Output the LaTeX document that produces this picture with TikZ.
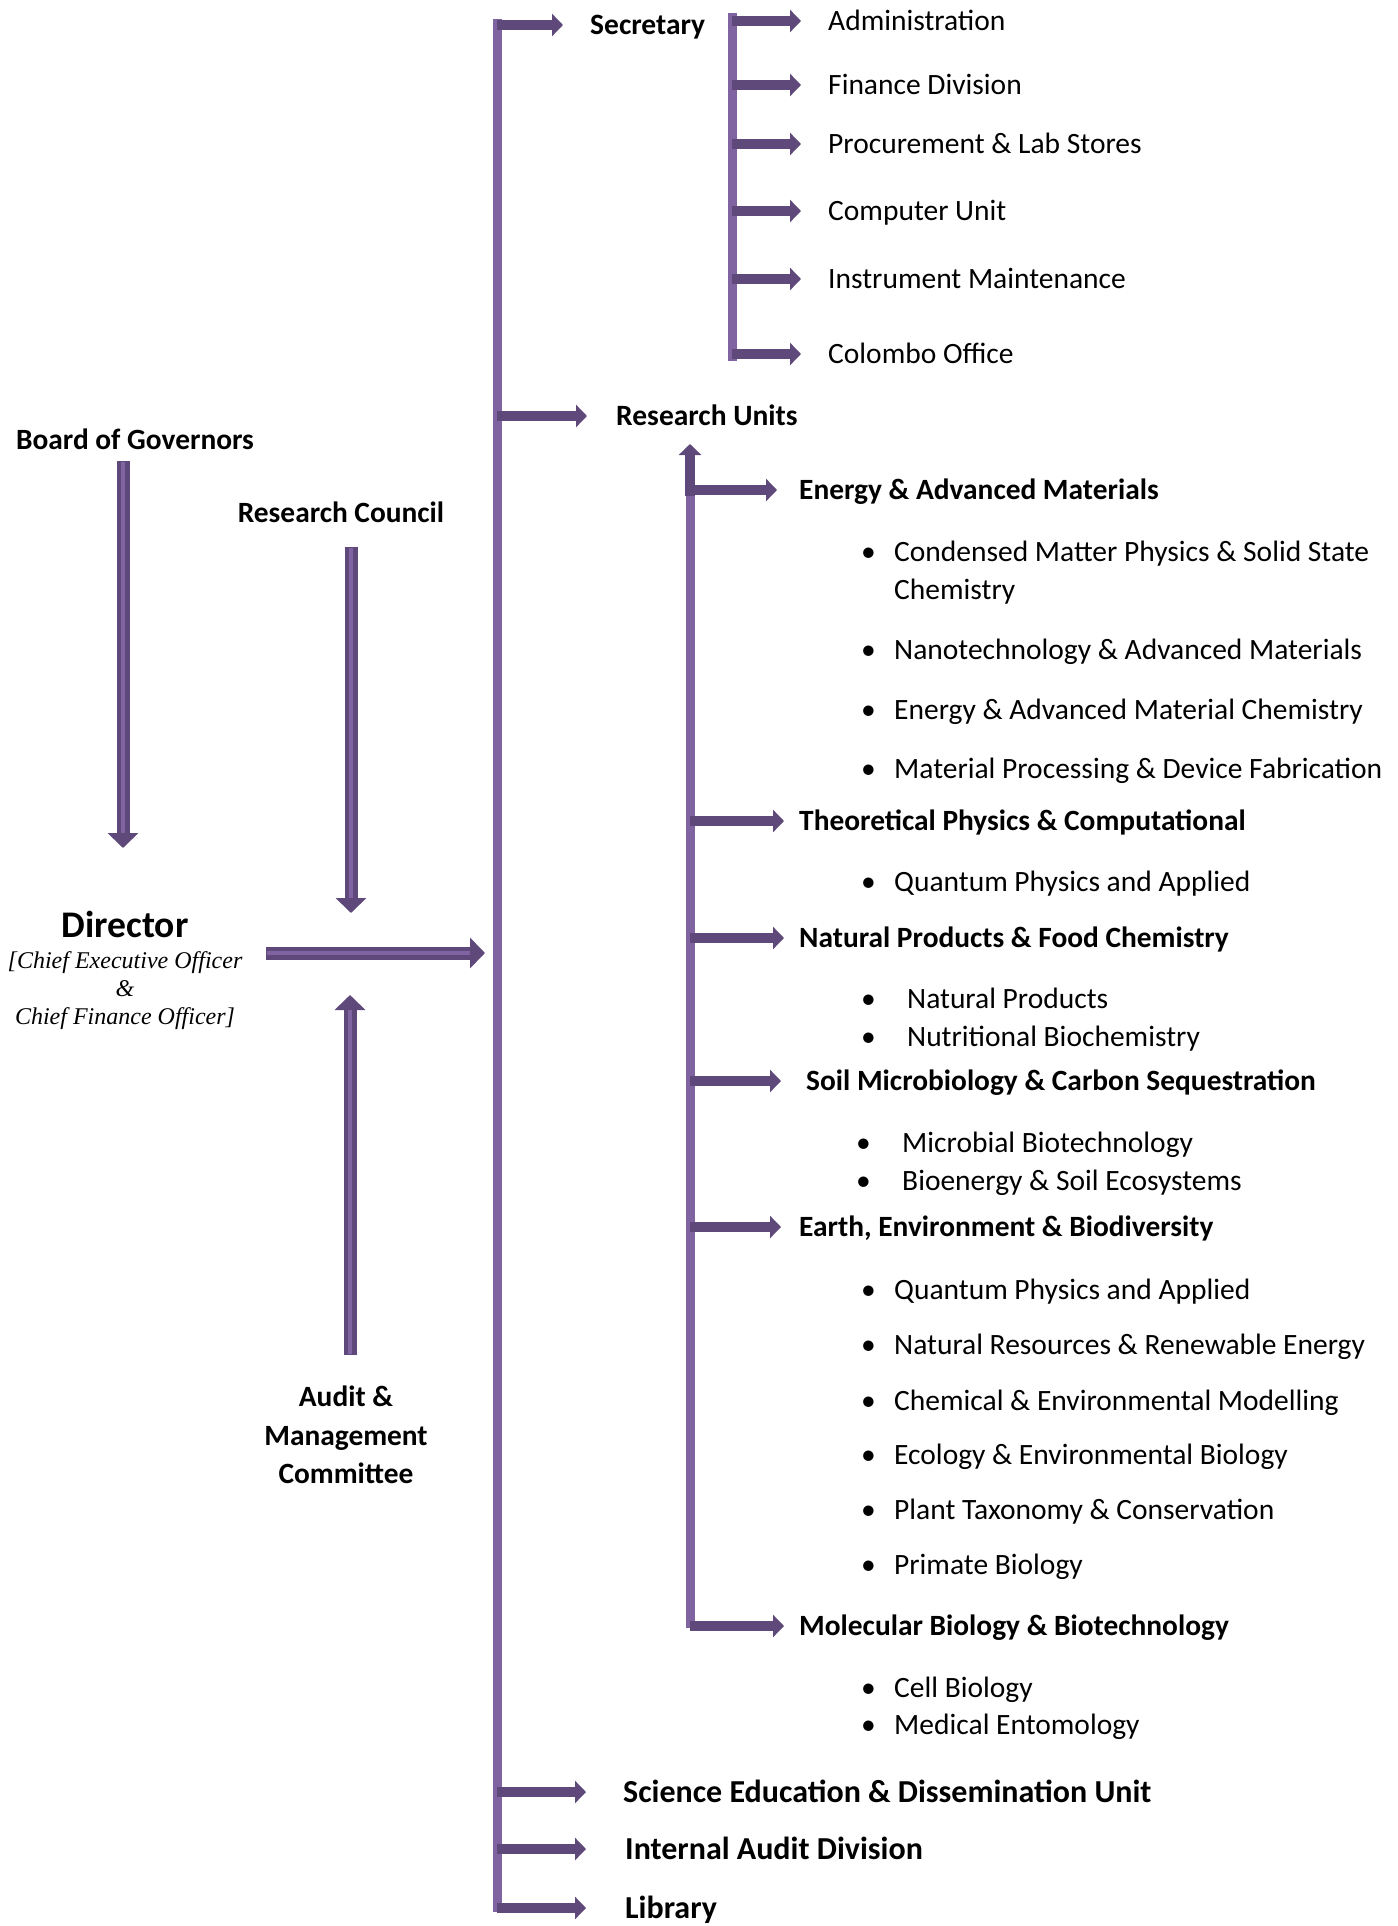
\documentclass[tikz,border=0pt]{standalone}
\usepackage{fontspec}
\setmainfont{Carlito}
\newfontfamily\timesfont{Liberation Serif}
\usepackage{tikz}
\usetikzlibrary{arrows.meta, calc, positioning}
\definecolor{darkpurple}{HTML}{5E497A}
\definecolor{lightpurple}{HTML}{8064A2}
\newcommand{\itembul}[1][33pt]{\makebox[#1][l]{\textbullet}}

\begin{document}
\begin{tikzpicture}[
    x=1pt, y=-1pt,
    bar/.style={line width=9pt, draw=lightpurple},
    branch/.style={line width=10pt, draw=darkpurple, -{Triangle[length=11pt, width=22pt]}, shorten >=#1},
    branch/.default=27pt,
    bigarrow/.style={line width=13pt, draw=darkpurple, -{Triangle[length=15pt, width=30pt]},
        postaction={draw=lightpurple, line width=4.5pt, -, shorten >=15pt, shorten <=1pt}},
    lefthead/.style={inner sep=0pt, font=\fontsize{29.4}{38.5}\selectfont\bfseries, align=center},
    head/.style={anchor=west, inner sep=0pt, font=\fontsize{29.5}{34}\selectfont\bfseries, text height=20pt, text depth=1pt},
    bighead/.style={anchor=west, inner sep=0pt, font=\fontsize{32}{38}\selectfont\bfseries, text height=21pt, text depth=1pt},
    cat/.style={anchor=west, inner sep=0pt, font=\fontsize{29.4}{34}\selectfont\bfseries, text height=20pt, text depth=1pt},
    item/.style={anchor=west, inner sep=0pt, font=\fontsize{29.5}{34}\selectfont, text height=20pt, text depth=1pt},
    item2/.style={anchor=west, inner sep=0pt, font=\fontsize{29.5}{38}\selectfont, align=left}
]
    \useasboundingbox (0,0) rectangle (1397,1926);

    % left column: governing bodies and the Director
    \node[lefthead] (bog) at (135,439) {Board of Governors};
    \node[lefthead] (rc) at (341,512) {Research Council};
    \node[inner sep=0pt, font=\fontsize{37.6}{42}\selectfont\bfseries] (dir) at (125,924) {Director};
    \node[inner sep=0pt, align=center, font=\timesfont\itshape\fontsize{24}{28}\selectfont] (dirsub) at (125,991)
        {[Chief Executive Officer\\\&\\Chief Finance Officer]};
    \node[lefthead] (amc) at (346,1435) {Audit \&\\Management\\Committee};

    \coordinate (bogend) at (123,848);
    \coordinate (rcend) at (351,913);
    \coordinate (dirend) at (485,953);
    \coordinate (amcend) at (350,995);

    \draw[bigarrow] ($(bog.south -| bogend)+(0,11)$) -- (bogend);
    \draw[bigarrow] ($(rc.south -| rcend)+(0,24)$) -- (rcend);
    \draw[bigarrow] ($(dirsub.east |- dirend)+(24,0)$) -- (dirend);
    \draw[bigarrow] ($(amc.north -| amcend)+(0,-31)$) -- (amcend);

    % main spine
    \coordinate (mtop) at (497,19);
    \coordinate (mbot) at (497,1912);
    \draw[bar] (mtop) -- (mbot);

    \node[head] (sec) at (590,25) {Secretary};
    \node[head] (ru) at (616,416) {Research Units};
    \node[bighead] (sed) at (623,1792) {Science Education \& Dissemination Unit};
    \node[bighead] (iad) at (625,1849) {Internal Audit Division};
    \node[bighead] (lib) at (625,1908) {Library};

    \draw[branch] (mtop |- sec) -- (sec);
    \draw[branch=29pt] (mtop |- ru) -- (ru);
    \draw[branch=37pt] (mtop |- sed) -- (sed);
    \draw[branch=39pt] (mtop |- iad) -- (iad);
    \draw[branch=39pt] (mtop |- lib) -- (lib);

    % secretary branch
    \coordinate (stop) at (732,13);
    \coordinate (sbot) at (732,361);
    \draw[bar] (stop) -- (sbot);

    \node[item] (adm) at (828,21) {Administration};
    \node[item] (fin) at (828,85) {Finance Division};
    \node[item] (proc) at (828,144) {Procurement \& Lab Stores};
    \node[item] (comp) at (828,211) {Computer Unit};
    \node[item] (inst) at (828,279) {Instrument Maintenance};
    \node[item] (col) at (828,354) {Colombo Office};

    \foreach \n in {adm, fin, proc, comp, inst, col}
        \draw[branch] (stop |- \n) -- (\n);

    % research units branch
    \coordinate (rtop) at (690,444);
    \coordinate (rbot) at (690,1628);
    \draw[bar] (rbot) -- ($(rtop)+(0,30)$);
    \draw[branch=0pt] ($(rtop)+(0,52)$) -- (rtop);

    \node[cat] (eam) at (799,490) {Energy \& Advanced Materials};
    \node[cat] (tpc) at (799,821) {Theoretical Physics \& Computational};
    \node[cat] (npf) at (799,938) {Natural Products \& Food Chemistry};
    \node[cat] (smc) at (806,1081) {Soil Microbiology \& Carbon Sequestration};
    \node[cat] (eeb) at (799,1227) {Earth, Environment \& Biodiversity};
    \node[cat] (mbb) at (799,1626) {Molecular Biology \& Biotechnology};

    \draw[branch=22pt] (rtop |- eam) -- (eam);
    \draw[branch=15pt] (rtop |- tpc) -- (tpc);
    \draw[branch=15pt] (rtop |- npf) -- (npf);
    \draw[branch=25pt] (rtop |- smc) -- (smc);
    \draw[branch=18pt] (rtop |- eeb) -- (eeb);
    \draw[branch=15pt] (rtop |- mbb) -- (mbb);

    % research areas
    \node[item2] (cmp) at (861,573) {\itembul Condensed Matter Physics \& Solid State\\\hspace*{33pt}Chemistry};
    \node[item] (nam) at (861,650) {\itembul Nanotechnology \& Advanced Materials};
    \node[item] (eamc) at (861,710) {\itembul Energy \& Advanced Material Chemistry};
    \node[item] (mpd) at (861,769) {\itembul Material Processing \& Device Fabrication};

    \node[item] (qpa) at (861,882) {\itembul Quantum Physics and Applied};

    \node[item] (np) at (861,999) {\itembul[46pt]Natural Products};
    \node[item] (nb) at (861,1037) {\itembul[46pt]Nutritional Biochemistry};

    \node[item] (mb) at (856,1143) {\itembul[46pt]Microbial Biotechnology};
    \node[item] (bse) at (856,1181) {\itembul[46pt]Bioenergy \& Soil Ecosystems};

    \node[item] (qpa2) at (861,1290) {\itembul Quantum Physics and Applied};
    \node[item] (nrre) at (861,1345) {\itembul Natural Resources \& Renewable Energy};
    \node[item] (cem) at (861,1401) {\itembul Chemical \& Environmental Modelling};
    \node[item] (eeb2) at (861,1455) {\itembul Ecology \& Environmental Biology};
    \node[item] (ptc) at (861,1510) {\itembul Plant Taxonomy \& Conservation};
    \node[item] (pb) at (861,1565) {\itembul Primate Biology};

    \node[item] (cb) at (861,1688) {\itembul Cell Biology};
    \node[item] (me) at (861,1725) {\itembul Medical Entomology};
\end{tikzpicture}
\end{document}
